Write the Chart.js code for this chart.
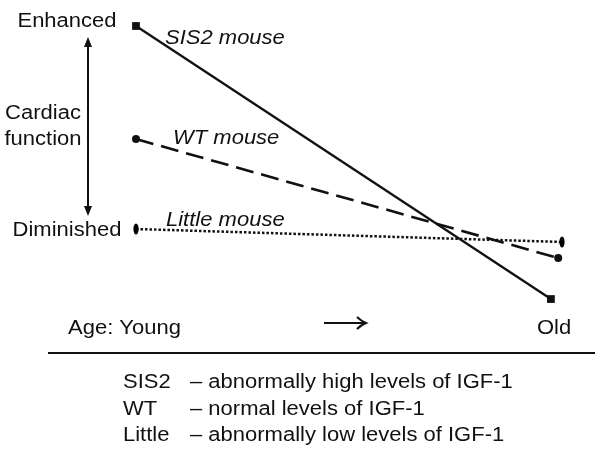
<!DOCTYPE html>
<html>
<head>
<meta charset="utf-8">
<script src="https://cdn.jsdelivr.net/npm/chart.js@4/dist/chart.umd.min.js"></script>
<style>
  html, body { margin: 0; padding: 0; background: #fff; }
  #wrap { width: 600px; height: 453px; position: relative; }
</style>
</head>
<body>
<div id="wrap"><canvas id="igfChart"></canvas></div>
<script>
// age axis: 0 = young, 10 = old ; cardiac function: 0 = diminished, 10 = enhanced
const ageLabels = ['Young', 'Old'];
const functionLabels = ['Diminished', 'Enhanced'];
const seriesNames = ['SIS2 mouse', 'WT mouse', 'Little mouse'];
const sis2Age = [0, 9.74];
const sis2Function = [10, -3.45];
const wtAge = [0, 9.91];
const wtFunction = [4.43, -1.43];
const littleAge = [0, 10];
const littleFunction = [0, -0.64];
const legendKeys = ['SIS2', 'WT', 'Little'];
const legendTexts = [
    '\u2013 abnormally high levels of IGF-1',
    '\u2013 normal levels of IGF-1',
    '\u2013 abnormally low levels of IGF-1'
];

const FONT = '"Liberation Sans", Arial, Helvetica, sans-serif';
const STRETCH = 1.1;

function toPoints(xs, ys) {
    return xs.map((x, i) => ({ x: x, y: ys[i] }));
}

// little vertical ellipse used as marker for the Little mouse line
function ellipseMarker() {
    const c = document.createElement('canvas');
    c.width = 6;
    c.height = 12;
    const g = c.getContext('2d');
    g.fillStyle = '#000';
    g.beginPath();
    g.ellipse(3, 6, 2.6, 5.6, 0, 0, Math.PI * 2);
    g.fill();
    return c;
}

function drawText(ctx, text, x, y, align, italic) {
    ctx.save();
    ctx.font = (italic ? 'italic ' : '') + '20px ' + FONT;
    ctx.fillStyle = '#111';
    ctx.textAlign = align;
    ctx.textBaseline = 'alphabetic';
    ctx.translate(x, y);
    ctx.scale(STRETCH, 1);
    ctx.fillText(text, 0, 0);
    ctx.restore();
}

function arrowHead(ctx, x, y, dx, dy) {
    // dx, dy = unit direction of the arrow
    const len = 10, half = 4;
    ctx.beginPath();
    ctx.moveTo(x, y);
    ctx.lineTo(x - dx * len - dy * half, y - dy * len + dx * half);
    ctx.lineTo(x - dx * len + dy * half, y - dy * len - dx * half);
    ctx.closePath();
    ctx.fill();
}

// Plugin drawing the annotation texts, arrows and the legend block
const annotations = {
    id: 'annotations',
    afterDraw(chart) {
        const ctx = chart.ctx;
        const xs = chart.scales.x;
        const ys = chart.scales.y;
        const y0 = ys.getPixelForValue(0);
        const y10 = ys.getPixelForValue(10);
        const xStart = xs.getPixelForValue(0);
        const xEnd = xs.getPixelForValue(10);

        // cardiac function axis
        drawText(ctx, functionLabels[1], 67, y10 + 1, 'center');
        drawText(ctx, functionLabels[0], 67, y0 + 7, 'center');
        drawText(ctx, 'Cardiac', 43, 119, 'center');
        drawText(ctx, 'function', 43, 145, 'center');

        ctx.save();
        ctx.strokeStyle = '#111';
        ctx.fillStyle = '#111';
        ctx.lineWidth = 2;
        ctx.beginPath();
        ctx.moveTo(88, 44);
        ctx.lineTo(88, 209);
        ctx.stroke();
        arrowHead(ctx, 88, 37, 0, -1);
        arrowHead(ctx, 88, 216, 0, 1);
        ctx.restore();

        // line labels
        drawText(ctx, seriesNames[0], xStart + 29, 44, 'left', true);
        drawText(ctx, seriesNames[1], xStart + 37, 144, 'left', true);
        drawText(ctx, seriesNames[2], xStart + 30, 226, 'left', true);

        // age axis
        drawText(ctx, 'Age: ' + ageLabels[0], 68, 334, 'left');
        drawText(ctx, ageLabels[1], xEnd - 8, 334, 'center');
        ctx.save();
        ctx.strokeStyle = '#111';
        ctx.fillStyle = '#111';
        ctx.lineWidth = 2.2;
        ctx.beginPath();
        ctx.moveTo(324, 323);
        ctx.lineTo(364, 323);
        ctx.stroke();
        ctx.lineWidth = 2;
        ctx.beginPath();
        ctx.moveTo(357, 317);
        ctx.quadraticCurveTo(361, 321, 366, 323);
        ctx.quadraticCurveTo(361, 325, 357, 329);
        ctx.stroke();

        // separator
        ctx.lineWidth = 2.2;
        ctx.beginPath();
        ctx.moveTo(48, 353);
        ctx.lineTo(595, 353);
        ctx.stroke();
        ctx.restore();

        // legend block
        legendKeys.forEach((key, i) => {
            const by = 388 + i * 26.5;
            drawText(ctx, key, 123, by, 'left');
            drawText(ctx, legendTexts[i], 190, by, 'left');
        });
    }
};

document.addEventListener('DOMContentLoaded', function () {
    const ctx = document.getElementById('igfChart').getContext('2d');

    new Chart(ctx, {
        type: 'scatter',
        data: {
            datasets: [
                {
                    label: seriesNames[0],
                    data: toPoints(sis2Age, sis2Function),
                    showLine: true,
                    borderColor: '#111',
                    borderWidth: 2.3,
                    pointStyle: 'rect',
                    pointRadius: 5.5,
                    pointBackgroundColor: '#111',
                    pointBorderColor: '#111',
                    pointBorderWidth: 0
                },
                {
                    label: seriesNames[1],
                    data: toPoints(wtAge, wtFunction),
                    showLine: true,
                    borderColor: '#111',
                    borderWidth: 2.6,
                    borderDash: [18, 8],
                    pointStyle: 'circle',
                    pointRadius: 4,
                    pointBackgroundColor: '#111',
                    pointBorderColor: '#111',
                    pointBorderWidth: 0
                },
                {
                    label: seriesNames[2],
                    data: toPoints(littleAge, littleFunction),
                    showLine: true,
                    borderColor: '#111',
                    borderWidth: 2.5,
                    borderDash: [2.5, 2],
                    pointStyle: ellipseMarker(),
                    pointRadius: 5,
                    pointBackgroundColor: '#111',
                    pointBorderColor: '#111'
                }
            ]
        },
        options: {
            responsive: true,
            maintainAspectRatio: false,
            animation: false,
            clip: false,
            layout: {
                padding: { left: 136, right: 38, top: 26, bottom: 142.8 }
            },
            scales: {
                x: { type: 'linear', min: 0, max: 10, display: false },
                y: { type: 'linear', min: -4, max: 10, display: false }
            },
            plugins: {
                legend: { display: false },
                tooltip: { enabled: false }
            }
        },
        plugins: [annotations]
    });
});
</script>
</body>
</html>
